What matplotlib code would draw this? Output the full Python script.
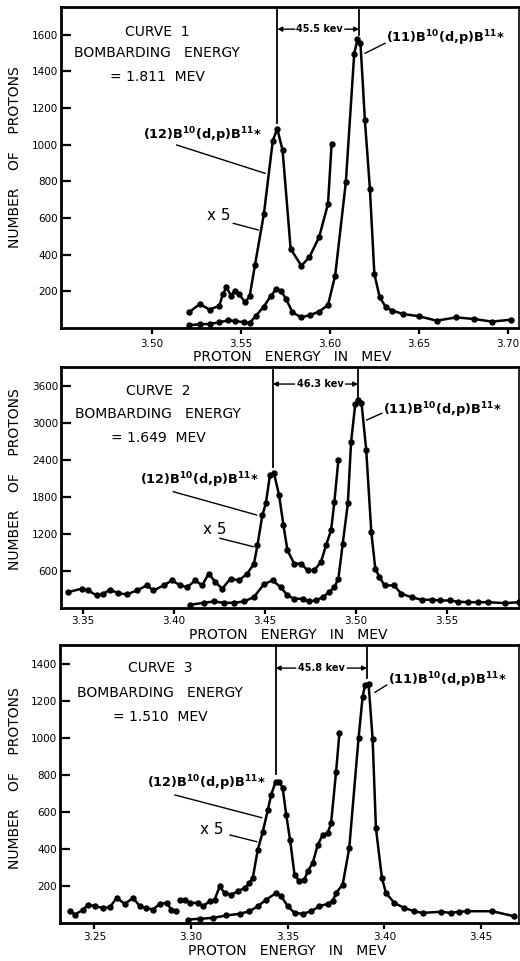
import matplotlib
matplotlib.use('Agg')
import matplotlib.pyplot as plt

plt.rcParams['font.family'] = ['DejaVu Sans']
plt.rcParams['mathtext.default'] = 'regular'

# ---------------- data ----------------
# Curve 1 (bombarding energy 1.811 MeV)
e1_main = [3.521, 3.527, 3.5325, 3.538, 3.543, 3.547, 3.552, 3.555, 3.5585, 3.563, 3.567,
           3.570, 3.5725, 3.5755, 3.579, 3.584, 3.589, 3.594, 3.599, 3.603, 3.609, 3.6137,
           3.6155, 3.6172, 3.6197, 3.6225, 3.625, 3.628, 3.6315, 3.635, 3.641, 3.650, 3.660,
           3.671, 3.681, 3.691, 3.7015]
c1_main = [16, 20, 22, 31, 42, 38, 31, 27, 67, 117, 177,
           213, 204, 158, 86, 58, 71, 89, 126, 286, 796, 1497,
           1575, 1555, 1133, 760, 295, 168, 113, 95, 77, 64, 40,
           58, 49, 35, 45]
e1_x5 = [3.521, 3.527, 3.5325, 3.538, 3.540, 3.542, 3.5445, 3.5465, 3.549, 3.5525, 3.555,
         3.558, 3.563, 3.568, 3.5705, 3.5735, 3.578, 3.584, 3.5885, 3.594, 3.599, 3.601]
c1_x5 = [86, 131, 100, 122, 186, 222, 177, 204, 186, 140, 173,
         344, 623, 1023, 1087, 969, 432, 340, 386, 496, 678, 1005]

# Curve 2 (bombarding energy 1.649 MeV)
e2_main = [3.409, 3.4165, 3.422, 3.4275, 3.433, 3.4386, 3.444, 3.4496, 3.4543, 3.4588, 3.4625,
           3.4662, 3.4708, 3.4745, 3.4782, 3.4819, 3.4855, 3.4883, 3.4905, 3.4929, 3.4957,
           3.4975, 3.4998, 3.5015, 3.5032, 3.5058, 3.5086, 3.5108, 3.5131, 3.5159, 3.5211,
           3.5251, 3.5307, 3.5362, 3.5417, 3.5463, 3.5518, 3.5565, 3.562, 3.5675, 3.573,
           3.5822, 3.5896]
c2_main = [44, 76, 98, 76, 76, 98, 168, 380, 440, 331, 196,
           142, 142, 103, 114, 168, 250, 331, 468, 1039, 1692,
           2697, 3310, 3375, 3330, 2561, 1228, 631, 494, 359, 359,
           223, 168, 126, 126, 114, 114, 93, 86, 86, 86,
           70, 86]
e2_x5 = [3.3419, 3.3493, 3.3529, 3.3576, 3.3612, 3.3649, 3.3695, 3.3741, 3.3797, 3.3852,
         3.3888, 3.3944, 3.399, 3.4036, 3.4073, 3.4119, 3.4156, 3.4192, 3.4229, 3.4266,
         3.4312, 3.4358, 3.4404, 3.4441, 3.446, 3.4487, 3.4506, 3.4529, 3.4551, 3.4579,
         3.4603, 3.4625, 3.4662, 3.4699, 3.4736, 3.4772, 3.4809, 3.4837, 3.4865, 3.4883,
         3.4905]
c2_x5 = [250, 305, 277, 196, 223, 289, 233, 212, 277, 359,
         277, 359, 440, 359, 331, 440, 359, 550, 413, 305,
         468, 440, 550, 713, 1011, 1500, 1692, 2153, 2181, 1827,
         1338, 930, 713, 713, 604, 604, 739, 1011, 1256, 1718,
         2398]

# Curve 3 (bombarding energy 1.510 MeV)
e3_main = [3.2984, 3.3044, 3.3113, 3.3182, 3.3251, 3.3302, 3.3345, 3.3389, 3.344, 3.3466,
           3.35, 3.3535, 3.3577, 3.3621, 3.3664, 3.3706, 3.3732, 3.375, 3.3784, 3.3818,
           3.3866, 3.3887, 3.3900, 3.3918, 3.3939, 3.3956, 3.3987, 3.4008, 3.4051, 3.4102,
           3.4154, 3.4197, 3.4292, 3.4343, 3.4386, 3.4429, 3.4558, 3.467]
c3_main = [16, 20, 25, 38, 47, 61, 88, 124, 160, 142,
           88, 52, 47, 61, 88, 101, 115, 160, 205, 403,
           996, 1220, 1288, 1292, 992, 511, 241, 160, 106, 79,
           61, 52, 58, 52, 58, 61, 61, 34]
e3_x5a = [3.2374, 3.24, 3.2442, 3.2468, 3.2503, 3.2545, 3.258, 3.2615, 3.2657, 3.27,
          3.2735, 3.2769, 3.2803, 3.2838, 3.2873, 3.2898, 3.2924]
c3_x5a = [61, 43, 70, 97, 88, 79, 83, 133, 101, 133,
          88, 79, 70, 101, 106, 70, 61]
e3_x5b = [3.2941, 3.2967, 3.2993, 3.3036, 3.3061, 3.3096, 3.3122, 3.3148, 3.3173, 3.3208,
          3.3242, 3.3277, 3.3302, 3.3319, 3.3345, 3.3371, 3.3397, 3.3414, 3.3437, 3.3457,
          3.3474, 3.3492, 3.3512, 3.3535, 3.356, 3.3586, 3.3603, 3.3629, 3.3655, 3.3681,
          3.3706, 3.3724, 3.375, 3.3767]
c3_x5b = [124, 124, 106, 106, 88, 115, 124, 196, 160, 151,
          169, 187, 214, 241, 394, 492, 609, 690, 762, 762,
          726, 582, 447, 259, 223, 232, 277, 322, 420, 474,
          483, 537, 816, 1023]

# peak markers (E of group 12, E of group 11) and separations
peaks1 = (3.5705, 3.6165)
peaks2 = (3.4544, 3.5014)
peaks3 = (3.3437, 3.3910)
sep_labels = ['45.5 kev', '46.3 kev', '45.8 kev']
curve_names = ['CURVE  1', 'CURVE  2', 'CURVE  3']
bomb_energy = ['= 1.811  MEV', '= 1.649  MEV', '= 1.510  MEV']

xt1 = [3.50, 3.55, 3.60, 3.65, 3.70]
xt2 = [3.35, 3.40, 3.45, 3.50, 3.55]
xt3 = [3.25, 3.30, 3.35, 3.40, 3.45]
yt1 = [200, 400, 600, 800, 1000, 1200, 1400, 1600]
yt2 = [600, 1200, 1800, 2400, 3000, 3600]
yt3 = [200, 400, 600, 800, 1000, 1200, 1400]

# ---------------- layout ----------------
W, H = 520, 961
fig = plt.figure(figsize=(W / 100, H / 100), dpi=100)
fig.patch.set_facecolor('white')


def fx(x):
    return x / W


def fy(y):
    return 1 - y / H


def add_ax(l, t, r, b):
    return fig.add_axes([fx(l), fy(b), (r - l) / W, (b - t) / H])


cfg = [
    dict(rect=(61, 7, 519, 328), xlim=(3.4491, 3.7062), ylim=(0, 1752),
         series=[(e1_main, c1_main), (e1_x5, c1_x5)], xt=xt1, yt=yt1, peaks=peaks1,
         ends=(1120, 1600), arrow_y=1631, text_e=3.5944, half=0.0140, xpad=4,
         sep=sep_labels[0], name=curve_names[0], be=bomb_energy[0],
         ctext=(157, 32, 53, 77), lab11=(386, 38), l11=((385, 43.3), (365, 53.3)),
         lab12=(143, 135), l12=((176.7, 145), (265, 173.3)),
         x5=(207, 215), lx5=((233.3, 223.3), (258.3, 230)),
         ylab=(15, 157), xlab=(292, 357)),
    dict(rect=(61, 366.7, 519, 607.5), xlim=(3.338, 3.5898), ylim=(0, 3915),
         series=[(e2_main, c2_main), (e2_x5, c2_x5)], xt=xt2, yt=yt2, peaks=peaks2,
         ends=(2284, 3426), arrow_y=3633, text_e=3.4804, half=0.0140, xpad=2,
         sep=sep_labels[1], name=curve_names[1], be=bomb_energy[1],
         ctext=(158, 391, 414, 438), lab11=(383, 410), l11=((381.7, 413.3), (366.7, 420)),
         lab12=(140, 480), l12=((173.3, 491.7), (256.7, 515)),
         x5=(203, 530), lx5=((220, 538.3), (253.3, 546.7)),
         ylab=(15, 479), xlab=(288, 635)),
    dict(rect=(60, 645, 519, 922.5), xlim=(3.2322, 3.4696), ylim=(0, 1502),
         series=[(e3_main, c3_main), (e3_x5a, c3_x5a), (e3_x5b, c3_x5b)], xt=xt3, yt=yt3,
         peaks=peaks3, ends=(802, 1323), arrow_y=1377, text_e=3.3674, half=0.0133, xpad=3,
         sep=sep_labels[2], name=curve_names[2], be=bomb_energy[2],
         ctext=(160, 668, 693, 717), lab11=(388, 680), l11=((386.7, 685), (375, 692.3)),
         lab12=(146.7, 783), l12=((175, 795), (261.7, 817.7)),
         x5=(200, 830), lx5=((230, 835), (256.7, 841.7)),
         ylab=(15, 778), xlab=(287, 951)),
]

react = 'B$^{10}$(d,p)B$^{11}$*'

for c in cfg:
    ax = add_ax(*c['rect'])
    for e, n in c['series']:
        ax.plot(e, n, '-o', color='black', lw=1.8, ms=3.6,
                solid_joinstyle='round', solid_capstyle='round', clip_on=False, zorder=3)
    ax.set_xlim(*c['xlim'])
    ax.set_ylim(*c['ylim'])
    ax.set_xticks(c['xt'])
    ax.set_xticklabels([f'{v:.2f}' for v in c['xt']])
    ax.set_yticks(c['yt'])
    ax.set_yticklabels([str(v) for v in c['yt']])
    ax.tick_params(axis='y', direction='in', length=7, width=1.6, pad=2, labelsize=7.5)
    ax.tick_params(axis='x', direction='out', length=4, width=1.6, pad=c['xpad'],
                   labelsize=7.5)
    for s in ['left', 'bottom', 'top']:
        ax.spines[s].set_linewidth(2.0)
    ax.spines['right'].set_linewidth(1.2)

    # peak markers and separation
    p12, p11 = c['peaks']
    top = c['ylim'][1]
    ax.plot([p12, p12], [c['ends'][0], top], color='black', lw=1.3)
    ax.plot([p11, p11], [c['ends'][1], top], color='black', lw=1.3)
    ya = c['arrow_y']
    ax.text(c['text_e'], ya, c['sep'], ha='center', va='center', fontsize=7,
            fontweight='bold')
    ax.annotate('', xy=(p12, ya), xytext=(c['text_e'] - c['half'], ya),
                arrowprops=dict(arrowstyle='-|>', lw=1.0, color='black',
                                mutation_scale=7, shrinkA=0, shrinkB=0))
    ax.annotate('', xy=(p11, ya), xytext=(c['text_e'] + c['half'], ya),
                arrowprops=dict(arrowstyle='-|>', lw=1.0, color='black',
                                mutation_scale=7, shrinkA=0, shrinkB=0))

    # curve description
    cx, y1, y2, y3 = c['ctext']
    fig.text(fx(cx), fy(y1), c['name'], ha='center', va='center', fontsize=10)
    fig.text(fx(cx), fy(y2), 'BOMBARDING   ENERGY', ha='center', va='center', fontsize=10)
    fig.text(fx(cx), fy(y3), c['be'], ha='center', va='center', fontsize=10)

    # reaction labels
    fig.text(fx(c['lab11'][0]), fy(c['lab11'][1]), '(11)' + react, ha='left', va='center',
             fontsize=9.3, fontweight='bold')
    fig.text(fx(c['lab12'][0]), fy(c['lab12'][1]), '(12)' + react, ha='left', va='center',
             fontsize=9.3, fontweight='bold')
    fig.text(fx(c['x5'][0]), fy(c['x5'][1]), 'x 5', ha='left', va='center', fontsize=11)
    for (a, b) in (c['l11'], c['l12'], c['lx5']):
        fig.add_artist(plt.Line2D([fx(a[0]), fx(b[0])], [fy(a[1]), fy(b[1])],
                                  color='black', lw=1.0, transform=fig.transFigure))

    # axis labels
    fig.text(fx(c['ylab'][0]), fy(c['ylab'][1]), 'NUMBER    OF    PROTONS', rotation=90,
             ha='center', va='center', fontsize=10)
    fig.text(fx(c['xlab'][0]), fy(c['xlab'][1]), 'PROTON   ENERGY   IN   MEV',
             ha='center', va='center', fontsize=10)

fig.savefig('out.png', dpi=100, facecolor='white')
